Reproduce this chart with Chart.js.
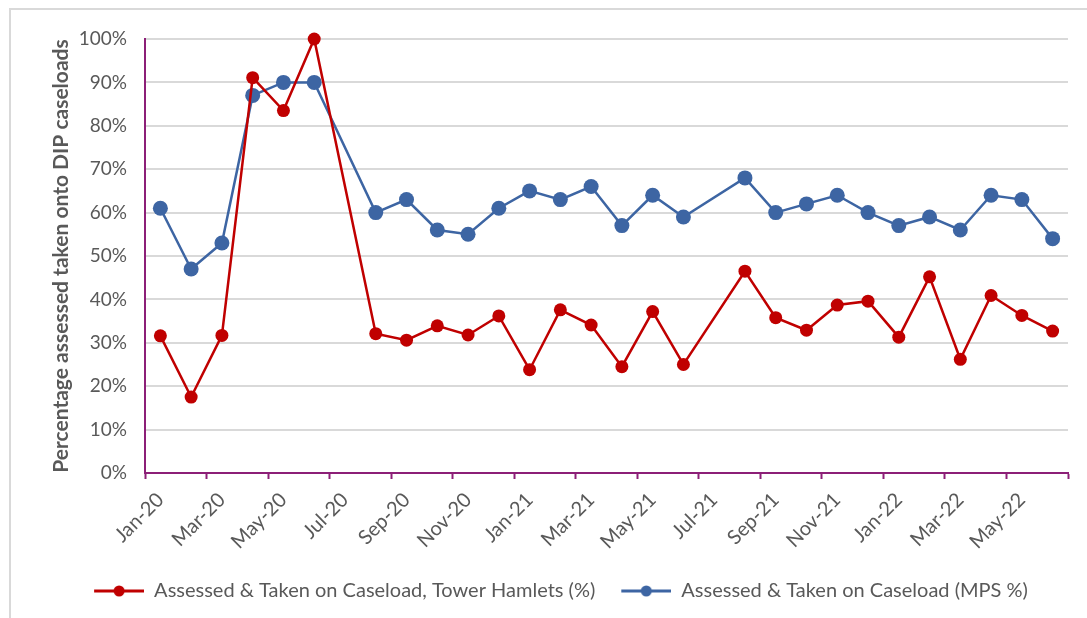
<!DOCTYPE html>
<html>
<head>
<meta charset="utf-8">
<title>DIP caseloads</title>
<script src="https://cdn.jsdelivr.net/npm/chart.js@4.4.1/dist/chart.umd.min.js"></script>
<style>
  html, body { margin: 0; padding: 0; background: #ffffff; }
  #wrap { position: relative; width: 1087px; height: 618px; }
  #frame { position: absolute; left: 9px; top: 8px; right: -4px; bottom: -4px;
           border-left: 2px solid #d9d9d9; border-top: 2px solid #d9d9d9; pointer-events: none; }
  canvas { display: block; }
</style>
</head>
<body>
<div id="wrap">
  <canvas id="chart" width="1087" height="618"></canvas>
  <div id="frame"></div>
</div>
<script>
// Monthly categories, Jan 2020 to Jun 2022 (Jul-20 and Jul-21 have no data)
const months = [
  'Jan-20','Feb-20','Mar-20','Apr-20','May-20','Jun-20','Jul-20','Aug-20','Sep-20','Oct-20','Nov-20','Dec-20',
  'Jan-21','Feb-21','Mar-21','Apr-21','May-21','Jun-21','Jul-21','Aug-21','Sep-21','Oct-21','Nov-21','Dec-21',
  'Jan-22','Feb-22','Mar-22','Apr-22','May-22','Jun-22'
];

// Assessed & taken on caseload, Tower Hamlets (%)
const towerHamlets = [
  31.6, 17.5, 31.7, 91.1, 83.5, 100, null, 32.1, 30.6, 33.9, 31.8, 36.2,
  23.8, 37.6, 34.1, 24.5, 37.2, 25.0, null, 46.5, 35.8, 32.9, 38.7, 39.6,
  31.3, 45.2, 26.2, 40.9, 36.3, 32.7
];

// Assessed & taken on caseload, MPS (%)
const mps = [
  61, 47, 53, 87, 90, 90, null, 60, 63, 56, 55, 61,
  65, 63, 66, 57, 64, 59, null, 68, 60, 62, 64, 60,
  57, 59, 56, 64, 63, 54
];

const seriesNames = [
  'Assessed & Taken on Caseload, Tower Hamlets (%)',
  'Assessed & Taken on Caseload (MPS %)'
];

const RED = '#c00000';
const BLUE = '#3d65a3';
const AXIS = '#8c1f77';
const GRID = '#d9d9d9';
const TEXT = '#595959';
const FONT = 'Lato, "Open Sans", sans-serif';

// Legend marker: a short line with a dot, drawn into a small canvas
function legendMarker(color) {
  const c = document.createElement('canvas');
  c.width = 66; c.height = 14;
  const g = c.getContext('2d');
  g.strokeStyle = color;
  g.lineWidth = 3;
  g.beginPath();
  g.moveTo(16, 7);
  g.lineTo(66, 7);
  g.stroke();
  g.fillStyle = color;
  g.beginPath();
  g.arc(41, 7, 5.5, 0, Math.PI * 2);
  g.fill();
  return c;
}

new Chart(document.getElementById('chart'), {
  type: 'line',
  data: {
    labels: months,
    datasets: [
      {
        label: seriesNames[0],
        data: towerHamlets,
        borderColor: RED,
        backgroundColor: RED,
        borderWidth: 2.5,
        pointRadius: 6.5,
        pointBorderWidth: 0,
        pointBackgroundColor: RED,
        pointStyle: 'circle',
        spanGaps: true,
        clip: false,
        tension: 0
      },
      {
        label: seriesNames[1],
        data: mps,
        borderColor: BLUE,
        backgroundColor: BLUE,
        borderWidth: 2.5,
        pointRadius: 7.5,
        pointBorderWidth: 0,
        pointBackgroundColor: BLUE,
        pointStyle: 'circle',
        spanGaps: true,
        clip: false,
        tension: 0
      }
    ]
  },
  options: {
    responsive: false,
    animation: false,
    layout: { padding: { left: 38, right: 19, top: 39, bottom: 7 } },
    plugins: {
      tooltip: { enabled: false },
      legend: {
        position: 'bottom',
        labels: {
          usePointStyle: true,
          pointStyleWidth: 66,
          boxHeight: 14,
          padding: 10,
          color: TEXT,
          font: { family: FONT, size: 20 },
          generateLabels(chart) {
            return chart.data.datasets.map((ds, i) => ({
              text: ds.label,
              fillStyle: ds.borderColor,
              strokeStyle: ds.borderColor,
              lineWidth: 0,
              pointStyle: legendMarker(ds.borderColor),
              hidden: false,
              datasetIndex: i,
              fontColor: TEXT
            }));
          }
        }
      }
    },
    scales: {
      x: {
        type: 'category',
        offset: true,
        border: { color: AXIS, width: 2 },
        grid: {
          offset: true,
          drawOnChartArea: false,
          drawTicks: true,
          tickLength: 6,
          tickWidth: 2,
          tickColor: ctx => (ctx.index === undefined || ctx.index % 2 === 0) ? AXIS : 'rgba(0,0,0,0)'
        },
        ticks: {
          autoSkip: false,
          maxRotation: 45,
          minRotation: 45,
          padding: 9,
          color: TEXT,
          font: { family: FONT, size: 20 },
          callback(value, index) {
            return index % 2 === 0 ? this.getLabelForValue(value) : '';
          }
        },
        afterFit(scale) { scale.height = 98; }
      },
      y: {
        min: 0,
        max: 100,
        border: { color: AXIS, width: 2 },
        grid: {
          color: ctx => (ctx.tick && ctx.tick.value === 0) ? 'rgba(0,0,0,0)' : GRID,
          lineWidth: 2,
          drawTicks: false
        },
        ticks: {
          stepSize: 10,
          padding: 18,
          color: TEXT,
          font: { family: FONT, size: 19 },
          callback: v => v + '%'
        },
        title: {
          display: true,
          text: 'Percentage assessed taken onto DIP caseloads',
          color: TEXT,
          font: { family: FONT, size: 21, weight: 'bold' },
          padding: { top: 11, bottom: 0 }
        },
        afterFit(scale) { scale.width = 107; }
      }
    }
  }
});
</script>
</body>
</html>
